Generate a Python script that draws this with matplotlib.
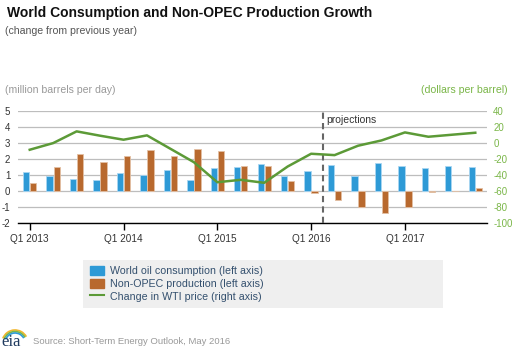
import matplotlib.pyplot as plt
from matplotlib.patches import Patch, Arc, Rectangle
from matplotlib.lines import Line2D

plt.rcParams['font.family'] = ['Liberation Sans', 'DejaVu Sans']
plt.rcParams['axes.unicode_minus'] = False

# quarterly data, Q1 2013 .. Q4 2017
quarters = ['Q1 2013', 'Q2 2013', 'Q3 2013', 'Q4 2013',
            'Q1 2014', 'Q2 2014', 'Q3 2014', 'Q4 2014',
            'Q1 2015', 'Q2 2015', 'Q3 2015', 'Q4 2015',
            'Q1 2016', 'Q2 2016', 'Q3 2016', 'Q4 2016',
            'Q1 2017', 'Q2 2017', 'Q3 2017', 'Q4 2017']
consumption = [1.19, 0.92, 0.77, 0.71, 1.12, 1.04, 1.33, 0.71, 1.42, 1.50,
               1.70, 0.96, 1.29, 1.65, 0.96, 1.75, 1.58, 1.42, 1.58, 1.54]
non_opec = [0.50, 1.50, 2.30, 1.83, 2.20, 2.56, 2.22, 2.62, 2.50, 1.55,
            1.56, 0.65, -0.10, -0.56, -1.00, -1.33, -1.00, -0.08, 0.0, 0.19]
wti = [-8.3, 0.0, 14.6, 9.2, 4.2, 9.6, -7.1, -23.8, -48.8, -45.8,
       -49.5, -29.2, -13.3, -15.0, -3.3, 3.3, 13.3, 7.9, 10.4, 12.9]
tick_quarters = ['Q1 2013', 'Q1 2014', 'Q1 2015', 'Q1 2016', 'Q1 2017']

blue = '#2e9ad6'
orange = '#b8692e'
green = '#5c9a37'
W, H = 531, 351

fig = plt.figure(figsize=(W / 100, H / 100), dpi=100)
ax = fig.add_axes([18 / W, 1 - 223.3 / H, (487 - 18) / W, (223.3 - 111) / H])
x = list(range(len(quarters)))

ax.bar([i - 0.15 for i in x], consumption, width=0.27, color=blue,
       edgecolor='#a9d6f2', linewidth=0.6, zorder=3)
ax.bar([i + 0.15 for i in x], non_opec, width=0.27, color=orange,
       edgecolor='#e3c0a4', linewidth=0.6, zorder=3)

ax.set_xlim(-0.5, 19.5)
ax.set_ylim(-2, 5)
ax.set_yticks(range(-2, 6))
ax.grid(axis='y', color='#bdbdbd', linewidth=0.9, zorder=0)
ax.set_axisbelow(True)
for s in ['top', 'right', 'left']:
    ax.spines[s].set_visible(False)
ax.spines['bottom'].set_color('black')
ax.spines['bottom'].set_linewidth(1.0)
ax.spines['bottom'].set_zorder(5)
ax.tick_params(axis='y', length=0, pad=5.5, labelsize=7, labelcolor='#333333')
ax.set_xticks([quarters.index(q) for q in tick_quarters])
ax.set_xticklabels(tick_quarters)
ax.tick_params(axis='x', length=5, width=1, color='black', direction='out',
               labelsize=7.2, labelcolor='#333333', pad=3)

ax2 = ax.twinx()
ax2.plot(x, wti, color=green, linewidth=1.8, zorder=4)
ax2.set_ylim(-100, 40)
ax2.set_yticks(range(-100, 41, 20))
for s in ax2.spines.values():
    s.set_visible(False)
ax2.tick_params(axis='y', length=0, pad=4.5, labelsize=7, labelcolor='#7ab648')

ax.axvline(12.5, color='#666666', linestyle=(0, (3, 2)), linewidth=1.5, zorder=6)
ax.text(12.65, 4.45, 'projections', fontsize=7.5, color='#333333', va='center')

# titles
fig.text(7 / W, 1 - 13 / H, 'World Consumption and Non-OPEC Production Growth',
         fontsize=10, fontweight='bold', color='#111111', va='center')
fig.text(5 / W, 1 - 31 / H, '(change from previous year)', fontsize=7.6,
         color='#555555', va='center')
fig.text(5 / W, 1 - 90 / H, '(million barrels per day)', fontsize=7.6,
         color='#999999', va='center')
fig.text(508 / W, 1 - 90 / H, '(dollars per barrel)', fontsize=7.6,
         color='#7ab648', va='center', ha='right')

# legend on a light grey band
fig.patches.append(Rectangle((83 / W, 1 - 308 / H), (443 - 83) / W, 48 / H,
                             facecolor='#efefef', edgecolor='none',
                             transform=fig.transFigure, zorder=0))
handles = [Patch(facecolor=blue, edgecolor=blue),
           Patch(facecolor=orange, edgecolor=orange),
           Line2D([0], [0], color=green, linewidth=1.5)]
labels = ['World oil consumption (left axis)', 'Non-OPEC production (left axis)',
          'Change in WTI price (right axis)']
leg = fig.legend(handles, labels, loc='upper left',
                 bbox_to_anchor=(90 / W, 1 - 266 / H), fontsize=7.7,
                 frameon=False, labelspacing=0.22,
                 handlelength=1.3, handleheight=0.95, handletextpad=0.55,
                 borderpad=0, borderaxespad=0)
for t in leg.get_texts():
    t.set_color('#34506e')

# footer
fig.text(33 / W, 1 - 342 / H, 'Source: Short-Term Energy Outlook, May 2016',
         fontsize=6.8, color='#999999', va='center')
fig.text(1 / W, 1 - 342 / H, 'eia', fontsize=12, family='Liberation Serif',
         color='#1f3a5f', va='center')
for r, c in [(0, '#f2b72e'), (1, '#7ab648'), (2, '#2e9ad6')]:
    fig.patches.append(Arc((15 / W, 1 - 343 / H), (26 - 3 * r) / W, (26 - 3 * r) / H,
                           theta1=40, theta2=150, color=c, linewidth=1.2,
                           transform=fig.transFigure))

fig.savefig('out.png', dpi=100)
